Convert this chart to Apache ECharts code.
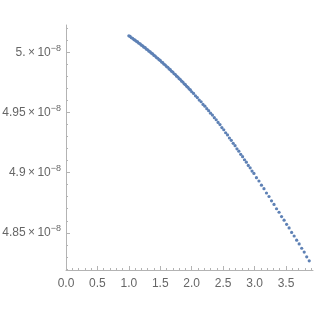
<!DOCTYPE html>
<html>
<head>
<meta charset="utf-8">
<script src="https://cdn.jsdelivr.net/npm/echarts@6/dist/echarts.min.js"></script>
<style>html,body{margin:0;padding:0;background:#fff}#c{width:316px;height:316px}</style>
</head>
<body>
<div id="c"></div>
<script>
// x values of the sampled points
const xValues = [
  1.00,1.02,1.04,1.06,1.08,1.10,1.12,1.14,1.16,1.18,
  1.20,1.22,1.24,1.26,1.28,1.30,1.32,1.34,1.36,1.38,
  1.40,1.42,1.44,1.46,1.48,1.50,1.52,1.54,1.56,1.58,
  1.60,1.62,1.64,1.66,1.68,1.70,1.72,1.74,1.76,1.78,
  1.80,1.82,1.84,1.86,1.88,1.90,1.92,1.94,1.96,1.98,
  2.00,2.03,2.06,2.09,2.12,2.15,2.18,2.21,2.24,2.27,
  2.30,2.33,2.36,2.39,2.42,2.45,2.48,2.51,2.54,2.57,
  2.60,2.63,2.66,2.69,2.72,2.75,2.78,2.81,2.84,2.87,
  2.90,2.93,2.96,2.99,3.03,3.07,3.11,3.15,3.19,3.23,
  3.27,3.31,3.35,3.39,3.43,3.47,3.51,3.55,3.59,3.63,
  3.67,3.71,3.75,3.79,3.83,3.87
];
// y values, mantissa in units of 10^-8
const yMantissa = [
  5.0140,5.0135,5.0124,5.0119,5.0109,5.0104,5.0094,5.0089,5.0078,5.0073,
  5.0062,5.0057,5.0045,5.0041,5.0029,5.0024,5.0012,5.0006,4.9995,4.9989,
  4.9977,4.9971,4.9959,4.9953,4.9941,4.9935,4.9922,4.9916,4.9903,4.9897,
  4.9884,4.9878,4.9864,4.9858,4.9844,4.9838,4.9824,4.9818,4.9804,4.9797,
  4.9783,4.9776,4.9762,4.9755,4.9740,4.9733,4.9719,4.9711,4.9697,4.9689,
  4.9674,4.9660,4.9640,4.9626,4.9605,4.9591,4.9569,4.9554,4.9533,4.9517,
  4.9496,4.9480,4.9458,4.9441,4.9419,4.9401,4.9376,4.9358,4.9333,4.9315,
  4.9289,4.9270,4.9245,4.9225,4.9199,4.9179,4.9153,4.9134,4.9108,4.9088,
  4.9061,4.9041,4.9014,4.8994,4.8959,4.8931,4.8896,4.8867,4.8831,4.8802,
  4.8766,4.8736,4.8700,4.8671,4.8635,4.8605,4.8570,4.8540,4.8503,4.8473,
  4.8438,4.8407,4.8371,4.8339,4.8300,4.8266
];
const yScale = 1e-8;

const xTickValues = [0, 0.5, 1.0, 1.5, 2.0, 2.5, 3.0, 3.5];
const xTickLabels = ['0.0','0.5','1.0','1.5','2.0','2.5','3.0','3.5'];
const yTickValues = [4.85e-8, 4.9e-8, 4.95e-8, 5.0e-8];
const yTickLabels = ['4.85', '4.9', '4.95', '5.'];

const xMin = 0, xMax = 3.93;
const yMin = 4.819e-8, yMax = 5.023e-8;

const xMinor = [];
for (let i = 1; i * 0.1 < xMax; i++) { if (i % 5) xMinor.push(+(i * 0.1).toFixed(2)); }
const yMinor = [];
for (let i = 482; i <= 502; i++) { if (i % 5) yMinor.push(i * 1e-10); }

const data = xValues.map((x, i) => [x, yMantissa[i] * yScale]);

const axisColor = '#b3b3b3';
const labelColor = '#666666';
const font = 'Liberation Sans, Arial, sans-serif';

function nearestIndex(arr, v) {
  let best = 0, d = Infinity;
  arr.forEach((a, i) => { const dd = Math.abs(a - v); if (dd < d) { d = dd; best = i; } });
  return best;
}

const chart = echarts.init(document.getElementById('c'), null, {renderer: 'canvas'});
chart.setOption({
  animation: false,
  grid: {left: 66, right: 3, top: 25, bottom: 46, containLabel: false, outerBoundsMode: 'none'},
  xAxis: [{
    type: 'value', min: xMin, max: xMax,
    axisLine: {show: true, onZero: false, lineStyle: {color: axisColor, width: 1}},
    axisTick: {show: true, inside: true, length: 4, customValues: xTickValues, lineStyle: {color: axisColor}},
    axisLabel: {show: true, customValues: xTickValues, margin: 8, color: labelColor, fontSize: 12, fontFamily: font,
      formatter: v => xTickLabels[nearestIndex(xTickValues, v)]},
    splitLine: {show: false}
  }, {
    type: 'value', min: xMin, max: xMax, position: 'bottom',
    axisLine: {show: false},
    axisTick: {show: true, inside: true, length: 2, customValues: xMinor, lineStyle: {color: axisColor}},
    axisLabel: {show: false},
    splitLine: {show: false}
  }],
  yAxis: [{
    type: 'value', min: yMin, max: yMax,
    axisLine: {show: true, onZero: false, lineStyle: {color: axisColor, width: 1}},
    axisTick: {show: true, inside: true, length: 4, customValues: yTickValues, lineStyle: {color: axisColor}},
    axisLabel: {show: true, customValues: yTickValues, margin: 5, color: labelColor, fontSize: 12, fontFamily: font,
      formatter: v => '{b|' + yTickLabels[nearestIndex(yTickValues, v)] + '\u2009×\u200910}{s|−8}',
      rich: {
        b: {fontSize: 12, color: labelColor, fontFamily: font},
        s: {fontSize: 9, color: labelColor, fontFamily: font, padding: [0, 0, 8, 0]}
      }},
    splitLine: {show: false}
  }, {
    type: 'value', min: yMin, max: yMax, position: 'left',
    axisLine: {show: false},
    axisTick: {show: true, inside: true, length: 2, customValues: yMinor, lineStyle: {color: axisColor}},
    axisLabel: {show: false},
    splitLine: {show: false}
  }],
  series: [{
    type: 'scatter',
    data: data,
    symbol: 'circle',
    symbolSize: 3.2,
    itemStyle: {color: '#5E81B5', opacity: 1},
    silent: true
  }]
});
</script>
</body>
</html>
